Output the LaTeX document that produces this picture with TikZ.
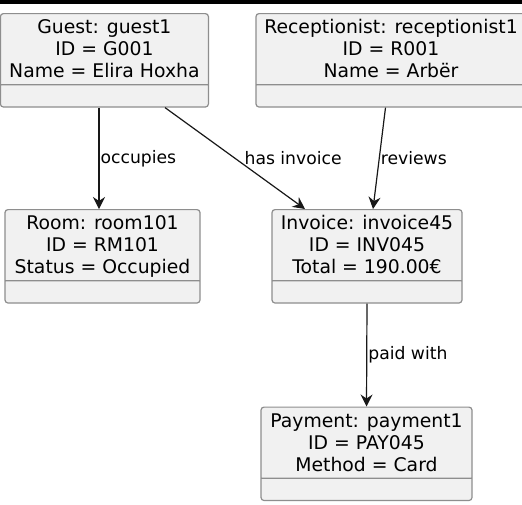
\documentclass[tikz,border=0pt]{standalone}
\usepackage{fontspec}
\setmainfont{DejaVu Sans}
\usepackage{xcolor}
\usetikzlibrary{arrows.meta, shapes.multipart}

\definecolor{objfill}{HTML}{F1F1F1}
\definecolor{objline}{HTML}{8E8E8E}
\definecolor{linkline}{HTML}{181818}
\newcommand{\vstrut}{\rule[-4.4pt]{0pt}{21.8pt}}

\begin{document}
\begin{tikzpicture}[x=1pt, y=-1pt,
  object/.style={rectangle split, rectangle split parts=2, draw=objline,
    line width=1.2pt, fill=objfill, rounded corners=3pt, align=center,
    inner xsep=0pt, inner ysep=2.1pt, anchor=north,
    rectangle split empty part height=16.8pt,
    rectangle split empty part depth=0pt,
    font=\fontsize{18.8}{22}\selectfont},
  %
  link/.style={draw=linkline, line width=1.2pt,
    -{Stealth[length=12pt, width=12pt, inset=4pt]}},
  %
  linklabel/.style={font=\fontsize{17.2}{20}\selectfont, inner sep=1pt}
  ]

  \fill [white] (0,0) rectangle (522,504);
  \fill [black] (0,0) rectangle (522,4);
  \useasboundingbox (0,0) rectangle (522,504);

  \begin{scope}
    \node [object, minimum width=208pt] (guest) at (104.4,13)
      {\vstrut Guest: guest1\\ID = G001\\Name = Elira Hoxha\vstrut};
    \node [object, minimum width=270pt] (receptionist) at (391,13)
      {\vstrut Receptionist: receptionist1\\ID = R001\\Name = Arbër\vstrut};
    %%%%%%%%%%%%%%%%%%%%%%%%%%%%%%%
    \node [object, minimum width=195pt] (room) at (102.5,209)
      {\vstrut Room: room101\\ID = RM101\\Status = Occupied\vstrut};
    \node [object, minimum width=190pt] (invoice) at (367,209)
      {\vstrut Invoice: invoice45\\ID = INV045\\Total = 190.00€\vstrut};
    %%%%%%%%%%%%%%%%%%%%%%%%%%%%%%%
    \node [object, minimum width=211pt] (payment) at (366.5,406.5)
      {\vstrut Payment: payment1\\ID = PAY045\\Method = Card\vstrut};
  \end{scope}

  \begin{scope}
    \draw [link] ([xshift=-5.4pt]guest.south) -- ([xshift=-3.5pt]room.north)
      node [linklabel, midway, right] {occupies};
    \draw [link] ([xshift=60.6pt]guest.south) -- ([xshift=-62pt]invoice.north)
      node [linklabel, midway, right=8pt] {has invoice};
    \draw [link] ([xshift=-5.5pt]receptionist.south) -- ([xshift=6pt]invoice.north)
      node [linklabel, midway, right] {reviews};
    \draw [link] (invoice.south) -- (payment.north)
      node [linklabel, midway, right] {paid with};
  \end{scope}

\end{tikzpicture}
\end{document}
